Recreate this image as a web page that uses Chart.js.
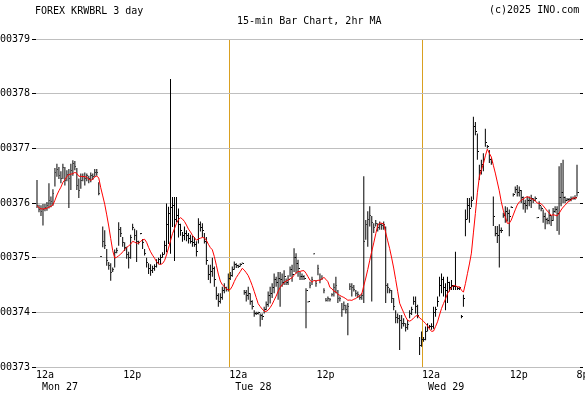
<!DOCTYPE html>
<html>
<head>
<meta charset="utf-8">
<script src="https://cdn.jsdelivr.net/npm/chart.js@4.4.1/dist/chart.umd.min.js"></script>
<style>
  html, body { margin: 0; padding: 0; background: #fff; }
  #wrap { position: relative; width: 585px; height: 394px; overflow: hidden; }
  #wrap canvas { position: absolute; left: 0; top: 0; }
  .txt { position: absolute; font: 10px "DejaVu Sans Mono", monospace; line-height: 12px; color: #000; white-space: pre; }
</style>
</head>
<body>
<div id="wrap">
  <canvas id="bar-chart" width="585" height="394"></canvas>
  <div class="txt" style="left:35px; top:5px;">FOREX KRWBRL 3 day</div>
  <div class="txt" style="left:237px; top:15px;">15-min Bar Chart, 2hr MA</div>
  <div class="txt" style="left:489px; top:4px;">(c)2025 INO.com</div>
</div>
<script>
// prices in units of 0.00001 BRL, one value per 15-min bar (bar 0 = Mon 12a)
var PIP = 0.00001;

var highs = [
  376.42,375.97,375.96,375.98,375.98,376.02,376.36,376.12,376.25,376.64,
  376.72,376.66,376.58,376.72,376.66,376.60,376.62,376.72,376.78,376.77,
  376.64,376.45,376.54,376.54,376.56,376.54,376.50,376.56,376.54,376.62,
  376.62,376.38,375.03,375.57,375.50,375.16,374.92,374.90,374.82,375.15,
  375.18,375.65,375.56,375.38,375.28,375.20,375.11,375.42,375.62,375.53,
  375.50,375.31,375.45,375.34,375.16,375.00,374.90,374.88,374.85,374.88,
  374.97,375.00,375.06,375.10,375.31,375.99,375.93,378.27,376.11,376.11,
  376.11,375.90,375.62,375.47,375.57,375.50,375.45,375.42,375.40,375.38,
  375.30,375.72,375.66,375.63,375.45,375.38,374.87,374.87,375.00,374.84,
  374.47,374.35,374.35,374.47,374.53,374.47,374.71,374.74,374.84,374.93,
  374.90,374.87,374.90,374.91,374.41,374.41,374.47,374.35,374.22,374.04,
  374.01,374.01,373.98,373.98,374.10,374.20,374.38,374.47,374.53,374.71,
  374.65,374.74,374.74,374.71,374.77,374.62,374.68,374.84,374.87,375.17,
  375.08,374.96,374.74,374.71,374.68,374.44,374.20,374.56,374.65,375.08,
  374.59,374.87,374.71,374.68,374.44,374.26,374.29,374.26,374.35,374.53,
  374.65,374.41,374.29,374.17,374.20,374.14,374.17,374.53,374.53,374.50,
  374.41,374.38,374.32,374.35,376.49,375.69,375.85,375.94,375.76,375.63,
  375.69,375.63,375.66,375.63,375.66,375.57,374.53,374.44,374.41,374.26,
  374.04,373.98,373.95,373.95,373.89,373.80,373.86,374.04,374.10,374.29,
  374.29,374.14,373.55,373.65,373.55,373.74,373.80,373.77,373.80,374.10,
  374.10,374.29,374.65,374.71,374.65,374.53,374.65,374.56,374.59,374.50,
  375.11,374.47,374.47,373.95,374.32,375.88,376.09,376.09,376.12,377.58,
  377.48,377.27,376.70,376.79,376.91,377.36,377.06,376.97,376.82,376.12,
  375.58,375.58,375.61,375.55,375.82,375.94,375.92,375.88,375.94,376.18,
  376.30,376.33,376.30,376.24,376.12,376.06,376.12,376.12,376.15,376.09,
  376.12,375.74,376.03,375.94,375.88,375.82,375.73,375.88,375.76,375.91,
  375.94,375.94,376.67,376.73,376.79,376.12,376.09,376.09,376.12,376.12,
  376.14,376.70
];

var lows = [
  375.91,375.83,375.76,375.59,375.85,375.86,375.90,375.92,375.95,376.30,
  376.48,376.44,376.36,376.44,376.32,376.40,375.91,376.24,376.50,376.60,
  376.24,376.09,376.26,376.40,376.32,376.40,376.36,376.38,376.42,376.48,
  376.50,376.14,375.01,375.19,375.16,374.85,374.78,374.58,374.74,374.82,
  375.08,375.22,375.38,375.20,375.12,374.98,374.80,374.98,375.50,375.32,
  374.92,375.24,375.43,375.16,375.04,374.82,374.70,374.67,374.72,374.76,
  374.82,374.88,374.88,375.00,375.06,375.10,375.25,375.07,375.56,374.94,
  375.65,375.37,375.40,375.29,375.32,375.30,375.26,375.26,375.20,375.20,
  375.02,375.26,375.48,375.38,375.26,374.87,374.59,374.53,374.65,374.47,
  374.23,374.10,374.16,374.23,374.35,374.38,374.38,374.59,374.65,374.78,
  374.81,374.81,374.84,374.89,374.32,374.20,374.23,374.14,374.05,373.92,
  373.95,373.96,373.74,373.86,373.98,374.04,374.10,374.16,374.26,374.35,
  374.47,374.23,374.10,374.47,374.50,374.50,374.50,374.65,374.56,374.74,
  374.71,374.65,374.59,374.59,374.59,373.71,374.18,374.44,374.50,375.06,
  374.47,374.68,374.53,374.59,374.35,374.20,374.20,374.20,374.29,374.29,
  374.35,374.17,374.20,373.92,374.04,373.98,373.58,374.41,374.29,374.38,
  374.29,374.26,374.23,374.23,374.17,375.33,375.20,375.57,374.20,375.45,
  375.57,375.48,375.51,375.51,375.51,374.17,374.35,374.35,374.17,374.04,
  373.80,373.80,373.31,373.70,373.74,373.65,373.68,373.89,373.95,374.14,
  373.98,373.89,373.22,373.37,373.46,373.49,373.65,373.71,373.68,373.70,
  373.92,374.10,374.29,374.35,374.29,374.04,374.17,374.38,374.41,374.41,
  374.41,374.41,374.41,373.89,374.10,375.39,375.70,375.64,375.92,376.06,
  377.24,376.79,376.42,376.52,376.58,377.03,377.00,376.73,376.70,375.58,
  375.39,375.27,374.82,375.45,375.73,375.64,375.66,375.39,375.91,376.12,
  376.18,376.12,376.12,376.00,375.88,375.82,375.88,375.94,375.91,376.00,
  376.03,375.72,375.88,375.85,375.64,375.52,375.61,375.61,375.58,375.67,
  375.82,375.49,375.42,375.94,376.00,376.00,376.03,376.03,376.03,376.06,
  376.06,376.12
];

var closes = [
  375.95,375.88,375.85,375.88,375.92,375.95,376.05,376.02,376.18,376.55,
  376.62,376.50,376.45,376.65,376.42,376.52,376.45,376.60,376.72,376.66,
  376.32,376.22,376.42,376.48,376.44,376.50,376.44,376.50,376.48,376.56,
  376.55,376.18,375.02,375.30,375.22,374.95,374.85,374.72,374.78,375.10,
  375.14,375.52,375.45,375.28,375.18,375.05,375.00,375.36,375.55,375.40,
  375.30,375.28,375.44,375.28,375.08,374.92,374.80,374.76,374.80,374.84,
  374.92,374.96,375.00,375.06,375.22,375.60,375.80,375.92,375.95,375.70,
  375.78,375.60,375.50,375.40,375.45,375.40,375.35,375.30,375.28,375.25,
  375.12,375.60,375.55,375.50,375.30,374.95,374.70,374.75,374.80,374.60,
  374.30,374.20,374.28,374.40,374.45,374.42,374.62,374.68,374.78,374.88,
  374.86,374.84,374.88,374.90,374.36,374.30,374.35,374.20,374.10,373.98,
  373.98,373.99,373.95,373.92,374.05,374.15,374.30,374.35,374.45,374.60,
  374.55,374.62,374.60,374.55,374.65,374.55,374.60,374.78,374.70,375.00,
  374.90,374.80,374.65,374.65,374.62,374.40,374.19,374.50,374.60,375.07,
  374.52,374.80,374.60,374.62,374.40,374.22,374.25,374.24,374.32,374.45,
  374.50,374.25,374.25,374.05,374.12,374.05,374.10,374.48,374.45,374.42,
  374.35,374.32,374.28,374.30,375.30,375.60,375.70,375.78,375.65,375.55,
  375.62,375.56,375.60,375.58,375.60,374.50,374.45,374.40,374.25,374.10,
  373.90,373.88,373.85,373.80,373.80,373.72,373.78,373.98,374.05,374.20,
  374.10,373.95,373.40,373.50,373.50,373.65,373.72,373.74,373.75,374.00,
  374.05,374.20,374.50,374.60,374.45,374.40,374.55,374.45,374.50,374.47,
  374.47,374.44,374.45,373.92,374.25,375.70,375.95,375.90,376.05,377.40,
  377.30,376.95,376.60,376.70,376.80,377.10,377.03,376.80,376.75,375.75,
  375.45,375.40,375.50,375.50,375.78,375.85,375.80,375.75,375.92,376.15,
  376.25,376.20,376.22,376.10,376.00,375.95,376.05,376.05,376.08,376.05,
  376.08,375.73,375.95,375.90,375.75,375.70,375.68,375.78,375.68,375.85,
  375.88,375.80,376.10,376.20,376.10,376.05,376.06,376.06,376.08,376.09,
  376.10,376.20
];

// x axis labels (bar index where each label sits)
var tickSlots = [-0.5, 43.25, 96.5, 140.25, 193.25, 237.25, 270.75];
var tickLabels = [['12a', ' Mon 27'], '12p', ['12a', ' Tue 28'], '12p', ['12a', ' Wed 29'], '12p', '8p'];
var dayBreaks = [96.5, 193.25];

var yTicks = [0.00373, 0.00374, 0.00375, 0.00376, 0.00377, 0.00378, 0.00379];

var maBars = 8; // 2hr MA on 15-min bars

function movingAverage(values, n) {
    var out = [];
    for (var i = 0; i < values.length; i++) {
        var from = Math.max(0, i - n + 1), sum = 0;
        for (var j = from; j <= i; j++) sum += values[j];
        out.push(sum / (i - from + 1));
    }
    return out;
}

var ma = movingAverage(closes, maBars);

var rangeData = highs.map(function(h, i) { return {x: i, y: [lows[i] * PIP, h * PIP]}; });
var closeData = closes.map(function(c, i) { return {x: i, y: c * PIP}; });
var maData = ma.map(function(m, i) { return {x: i, y: m * PIP}; });

// small right-hand tick for the close
var closeTick = document.createElement('canvas');
closeTick.width = 3; closeTick.height = 1;
var tctx = closeTick.getContext('2d');
tctx.fillStyle = '#000';
tctx.fillRect(2, 0, 1, 1);

Chart.defaults.font.family = '"DejaVu Sans Mono", monospace';
Chart.defaults.font.size = 10;
Chart.defaults.color = '#000';

new Chart(document.getElementById('bar-chart'), {
    type: 'bar',
    data: {
        datasets: [
            {
                type: 'line',
                label: '2hr MA',
                data: maData,
                borderColor: '#ff0000',
                borderWidth: 1,
                pointRadius: 0,
                tension: 0,
                order: 0
            },
            {
                type: 'scatter',
                label: 'close',
                data: closeData,
                pointStyle: closeTick,
                pointRadius: 1,
                order: 1
            },
            {
                label: 'range',
                data: rangeData,
                backgroundColor: '#000',
                borderWidth: 0,
                inflateAmount: 0,
                barThickness: 1,
                order: 2
            }
        ]
    },
    options: {
        responsive: false,
        animation: false,
        layout: { padding: { top: 39, left: 0, right: 0, bottom: 0 } },
        plugins: { legend: { display: false }, tooltip: { enabled: false } },
        scales: {
            x: {
                type: 'linear',
                offset: false,
                min: -0.5,
                max: 272.5,
                afterBuildTicks: function(scale) {
                    scale.ticks = tickSlots.map(function(v) { return {value: v}; });
                },
                afterFit: function(scale) {
                    scale.height = 27;
                    scale.paddingLeft = 0;
                    scale.paddingRight = 0;
                },
                border: { display: false },
                grid: {
                    offset: false,
                    color: function(ctx) {
                        return ctx.tick && dayBreaks.indexOf(ctx.tick.value) >= 0 ? '#d9a021' : 'rgba(0,0,0,0)';
                    },
                    drawTicks: false
                },
                ticks: {
                    autoSkip: false,
                    maxRotation: 0,
                    align: 'start',
                    padding: 2,
                    callback: function(v, i) { return tickLabels[i]; }
                }
            },
            y: {
                position: 'left',
                min: 0.00373,
                max: 0.00379,
                afterBuildTicks: function(scale) {
                    scale.ticks = yTicks.map(function(v) { return {value: v}; });
                },
                afterFit: function(scale) { scale.width = 36; },
                border: { display: false },
                grid: { color: '#bfbfbf', tickColor: '#000', tickLength: 4 },
                ticks: {
                    padding: 2,
                    callback: function(v) { return v.toFixed(5); }
                }
            },
            y2: {
                position: 'right',
                min: 0.00373,
                max: 0.00379,
                afterBuildTicks: function(scale) {
                    scale.ticks = yTicks.map(function(v) { return {value: v}; });
                },
                afterFit: function(scale) { scale.width = 3; },
                border: { display: false },
                grid: { drawOnChartArea: false, tickColor: '#000', tickLength: 3 },
                ticks: { callback: function() { return ''; } }
            }
        }
    }
});
</script>
</body>
</html>
